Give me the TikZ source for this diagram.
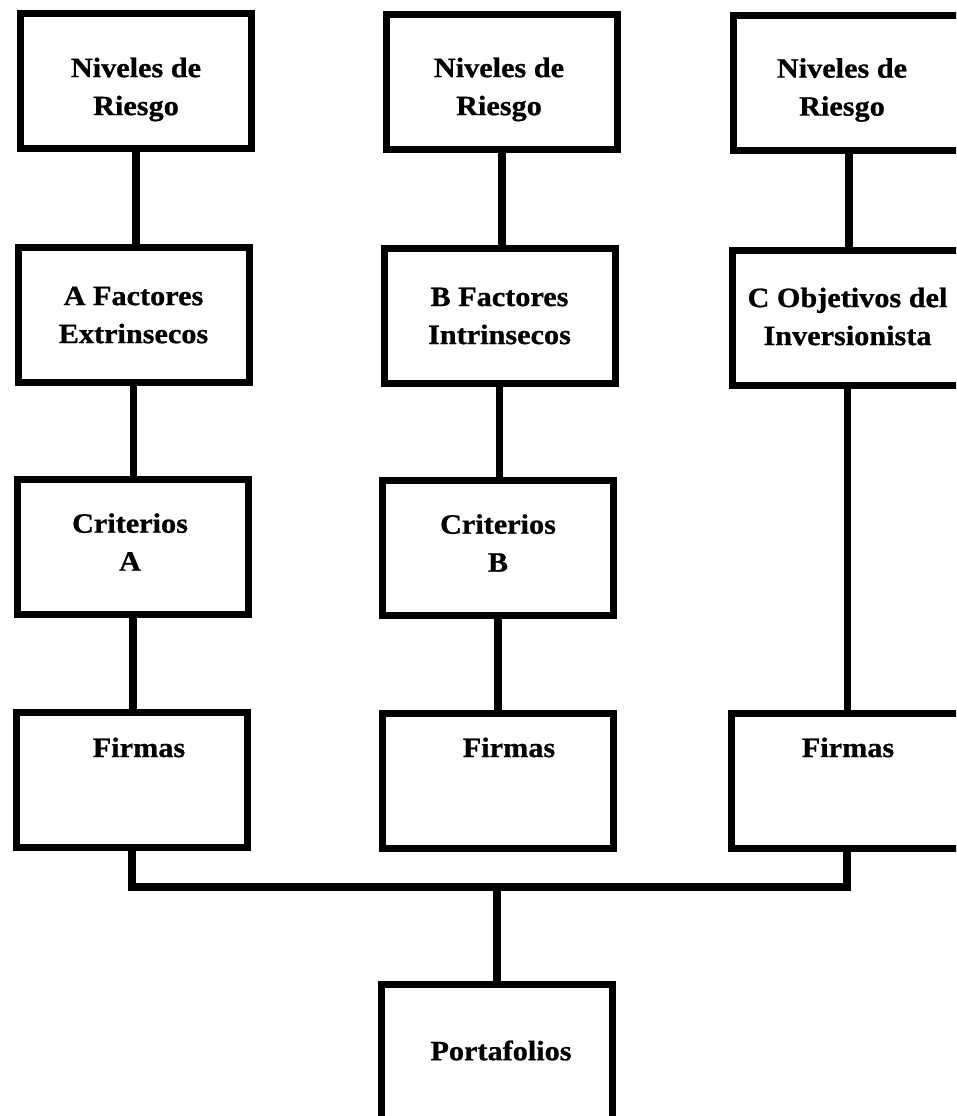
\documentclass[tikz,border=0pt]{standalone}
\usepackage{fontspec}
\setmainfont[FakeStretch=1.08, BoldFeatures={FakeBold=0.8}]{Liberation Serif}
\begin{document}
\begin{tikzpicture}[x=1pt,y=-1pt,
  txt/.style={font=\fontsize{28}{38}\selectfont\bfseries},
  box/.style={draw, line width=7pt, minimum width=231pt, minimum height=135pt,
    inner sep=0pt, fill=white},
  btxt/.style={align=center, inner sep=0pt, txt},
  lbl/.style={anchor=base, inner sep=0pt, txt},
  link/.style={line width=7.5pt}]
\useasboundingbox (0,0) rectangle (956,1116);
\fill[white] (0,0) rectangle (956,1116);
\clip (0,0) rectangle (956,1116);
% row 1
\node[box] (n1) at (136,81) {};
\node[box] (n2) at (502,82) {};
\node[box] (n3) at (849,83) {};
\node[btxt] at ([yshift=-8.5pt]n1.center) {Niveles de\\Riesgo};
\node[btxt] at ([xshift=-3pt,yshift=-7.5pt]n2.center) {Niveles de\\Riesgo};
\node[btxt] at ([xshift=-7pt,yshift=-7pt]n3.center) {Niveles de\\Riesgo};
% row 2
\node[box] (fa) at (133.5,315) {};
\node[box] (fb) at (499.5,316) {};
\node[box] (fc) at (847.5,318) {};
\node[btxt] at ([yshift=0pt]fa.center) {A Factores\\Extrinsecos};
\node[btxt] at ([yshift=0pt]fb.center) {B Factores\\Intrinsecos};
\node[btxt] at ([yshift=1.5pt]fc.center) {C Objetivos del\\Inversionista};
% row 3
\node[box] (ca) at (133,547) {};
\node[box] (cb) at (498,548) {};
\node[btxt] at ([xshift=-3pt,yshift=5pt]ca.center) {Criterios\\A};
\node[btxt] at ([yshift=5pt]cb.center) {Criterios\\B};
% row 4
\node[box] (ia) at (132,779.5) {};
\node[box] (ib) at (498,780.5) {};
\node[box] (ic) at (847,781) {};
\node[lbl] at (139,757) {Firmas};
\node[lbl] at (509,757) {Firmas};
\node[lbl] at (848,757) {Firmas};
% portafolios
\node[box, minimum height=137pt] (pf) at (497,1053) {};
\node[btxt] at ([xshift=4pt,yshift=2.5pt]pf.center) {Portafolios};
% connectors
\draw[link] (n1.south) -- (n1.south |- fa.north);
\draw[link] (fa.south) -- (fa.south |- ca.north);
\draw[link] (ca.south) -- (ca.south |- ia.north);
\draw[link] (n2.south) -- (n2.south |- fb.north);
\draw[link] (fb.south) -- (fb.south |- cb.north);
\draw[link] (cb.south) -- (cb.south |- ib.north);
\draw[link] (n3.south) -- (n3.south |- fc.north);
\draw[link] (fc.south) -- (fc.south |- ic.north);
\coordinate (bus) at (497,887);
\draw[link] (ia.south) |- (bus) -| (ic.south);
\draw[link] (bus) -- (pf.north);
\end{tikzpicture}
\end{document}
